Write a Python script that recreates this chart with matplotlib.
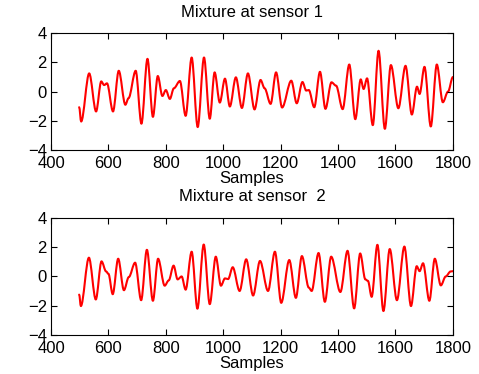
import numpy as np
import matplotlib
matplotlib.use("Agg")
import matplotlib.pyplot as plt
from matplotlib.path import Path
from matplotlib.patches import PathPatch

# ==============================
# DATA (turning points of each mixture)
# ==============================

s1_samples = [498, 505, 533, 557, 575, 585, 595, 616, 636, 659, 670, 695, 715,
              736, 755, 772, 788, 800, 814, 828, 849, 869, 890, 911, 933, 953,
              970, 988, 1006, 1023, 1044, 1065, 1086, 1109, 1130, 1144, 1165,
              1184, 1205, 1237, 1256, 1276, 1289, 1298, 1317, 1337, 1356, 1377,
              1393, 1416, 1439, 1460, 1479, 1489, 1501, 1521, 1541, 1563, 1584,
              1610, 1635, 1657, 1675, 1684, 1701, 1723, 1744, 1765, 1783, 1800]
s1_values = [-1.07, -2.05, 1.25, -1.36, 0.70, 0.45, 0.57, -1.36, 1.43, -0.90,
             -0.45, 1.43, -2.20, 2.25, -1.73, 1.07, -0.30, 0.11, -0.50, 0.23,
             0.73, -1.66, 2.34, -2.43, 2.34, -1.86, 1.32, -0.75, 0.89, -1.02,
             0.98, -1.12, 1.25, -1.22, 0.80, 0.23, -0.84, 1.32, -1.09, 0.75,
             -0.80, 0.66, 0.07, 0.11, -1.07, 1.36, -1.18, 0.64, 0.41, -1.20,
             1.86, -1.89, 0.84, 0.18, 0.91, -2.30, 2.80, -2.55, 1.82, -1.14,
             1.77, -1.57, 0.34, -0.16, 1.70, -2.39, 1.86, -0.73, 0.00, 1.00]

s2_samples = [498, 504, 532, 556, 576, 592, 600, 615, 634, 654, 671, 693, 714,
              734, 755, 773, 796, 810, 827, 841, 855, 869, 890, 910, 932, 953,
              974, 992, 1006, 1017, 1033, 1057, 1080, 1104, 1128, 1156, 1180,
              1202, 1230, 1253, 1274, 1298, 1308, 1332, 1354, 1376, 1408, 1433,
              1456, 1477, 1495, 1504, 1517, 1537, 1558, 1580, 1605, 1631, 1654,
              1674, 1684, 1696, 1718, 1737, 1758, 1775, 1792, 1800]
s2_values = [-1.24, -2.02, 1.28, -1.57, 1.03, 0.34, 0.18, -1.21, 1.21, -0.94,
             -0.04, 0.94, -1.62, 1.82, -1.66, 1.21, -0.63, -0.27, 0.74, -0.20,
             0.00, -0.90, 1.69, -2.20, 2.18, -1.89, 1.35, -0.63, -0.13, -0.18,
             0.63, -0.99, 1.17, -1.30, 1.06, -0.99, 1.69, -1.80, 1.12, -1.46,
             1.39, -0.76, -0.99, 1.60, -1.73, 1.35, -1.06, 1.75, -2.18, 1.57,
             -0.20, -0.30, -1.39, 2.16, -2.36, 1.87, -1.62, 2.04, -2.02, 0.70,
             0.36, 0.90, -1.66, 1.21, -0.61, 0.00, 0.34, 0.36]

titles = ["Mixture at sensor 1", "Mixture at sensor  2"]
x_ticks = [400, 600, 800, 1000, 1200, 1400, 1600, 1800]
y_ticks = [-4, -2, 0, 2, 4]


def smooth_trace(ax, xs, ys, **kw):
    # let matplotlib draw a bezier through the turning points
    # (flat tangent at each point, so peaks come out rounded)
    verts = [(xs[0], ys[0])]
    codes = [Path.MOVETO]
    for i in range(len(xs) - 1):
        dx = (xs[i + 1] - xs[i]) / 3.0
        verts += [(xs[i] + dx, ys[i]), (xs[i + 1] - dx, ys[i + 1]),
                  (xs[i + 1], ys[i + 1])]
        codes += [Path.CURVE4] * 3
    ax.add_patch(PathPatch(Path(verts, codes), fill=False, **kw))


# ==============================
# PLOT
# ==============================

plt.rcParams["font.family"] = ["Liberation Sans", "DejaVu Sans"]
plt.rcParams["font.size"] = 12

fig = plt.figure(figsize=(4.79, 3.74), dpi=100)
ax1 = fig.add_axes([0.1065, 0.599, 0.839, 0.312])
ax2 = fig.add_axes([0.1065, 0.104, 0.839, 0.3136])

for ax, xs, ys, title in [(ax1, s1_samples, s1_values, titles[0]),
                          (ax2, s2_samples, s2_values, titles[1])]:
    smooth_trace(ax, xs, ys, edgecolor="red", linewidth=1.5,
                 joinstyle="round", capstyle="round")
    ax.set_xlim(400, 1800)
    ax.set_ylim(-4, 4)
    ax.set_xticks(x_ticks)
    ax.set_yticks(y_ticks)
    ax.tick_params(direction="in", top=True, right=True, length=4,
                   width=0.8, labelsize=12)
    ax.tick_params(axis="x", pad=4)
    ax.tick_params(axis="y", pad=3)
    ax.set_title(title, fontsize=12, pad=12)
    ax.set_xlabel("Samples", fontsize=12, labelpad=0)
    for sp in ax.spines.values():
        sp.set_linewidth(0.8)

fig.savefig("out.png", dpi=100)
